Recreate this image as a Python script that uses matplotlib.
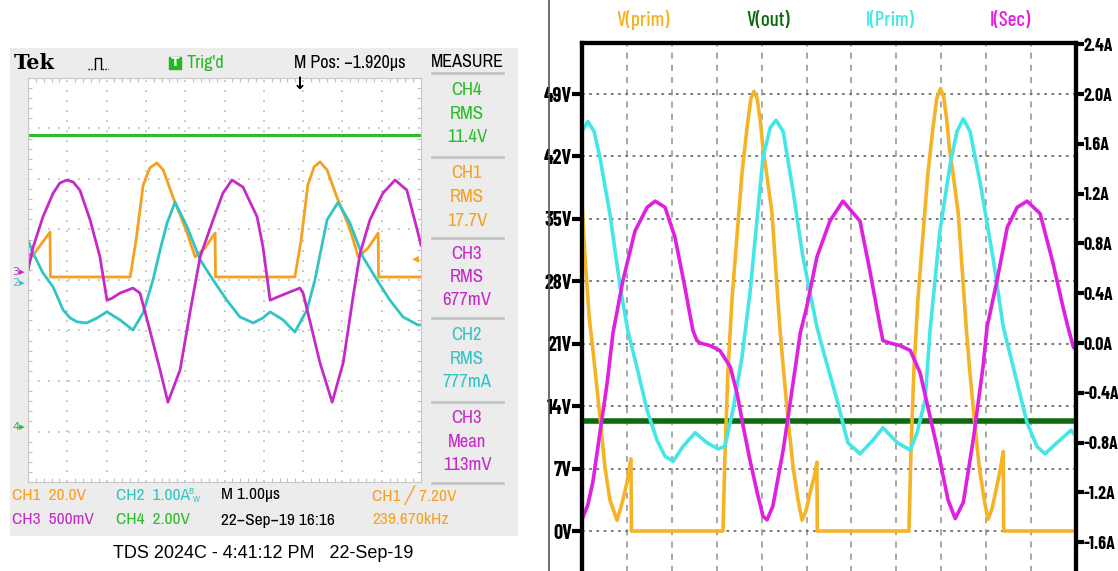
import matplotlib
matplotlib.use("Agg")
import matplotlib.pyplot as plt
from matplotlib.patches import Rectangle
from matplotlib.lines import Line2D

W, H = 1118, 571
NARROW = ['Archivo Narrow', 'DejaVu Sans']
BOLDN = ['Barlow Condensed', 'DejaVu Sans']
PLAIN = ['Liberation Sans', 'DejaVu Sans']

# ---------------- scope (left) data, time in us (1 us/div), amplitude in divisions
ch4_t = [0.0, 10.0]
ch4_d = [2.87, 2.87]

ch1_t = [0.00, 0.10, 0.56, 0.57, 2.60, 2.75, 2.93, 3.10, 3.28, 3.44, 3.69, 3.87, 4.05, 4.25,
         4.50, 4.76, 4.77, 6.79, 6.95, 7.12, 7.28, 7.43, 7.61, 7.86, 8.07, 8.24, 8.40, 8.65,
         8.91, 8.92, 10.0]
ch1_d = [0.53, 0.46, 0.95, 0.06, 0.06, 0.79, 1.88, 2.22, 2.32, 2.18, 1.64, 1.29, 0.93, 0.46,
         0.63, 0.93, 0.06, 0.06, 0.79, 1.88, 2.24, 2.34, 2.18, 1.64, 1.25, 0.89, 0.46, 0.63,
         0.93, 0.06, 0.06]

ch2_t = [0.00, 0.13, 0.38, 0.64, 0.89, 1.07, 1.25, 1.50, 1.76, 2.01, 2.34, 2.67, 2.93, 3.18,
         3.36, 3.54, 3.74, 4.05, 4.38, 4.71, 5.06, 5.39, 5.73, 5.98, 6.16, 6.49, 6.79, 7.10,
         7.30, 7.48, 7.61, 7.89, 8.19, 8.52, 8.88, 9.21, 9.54, 9.92, 10.0]
ch2_d = [0.79, 0.53, 0.14, -0.14, -0.59, -0.75, -0.83, -0.85, -0.75, -0.63, -0.79, -0.99,
         -0.65, 0.00, 0.59, 1.13, 1.54, 1.05, 0.40, 0.00, -0.40, -0.73, -0.85, -0.75, -0.63,
         -0.79, -1.03, -0.59, 0.00, 0.69, 1.19, 1.54, 1.13, 0.46, 0.00, -0.40, -0.73, -0.89,
         -0.89]

ch3_t = [0.00, 0.13, 0.38, 0.64, 0.81, 0.99, 1.15, 1.32, 1.58, 1.83, 2.01, 2.14, 2.34, 2.67,
         2.85, 3.10, 3.36, 3.56, 3.87, 4.12, 4.38, 4.71, 4.96, 5.19, 5.47, 5.83, 5.98, 6.16,
         6.28, 6.59, 6.92, 7.00, 7.43, 7.74, 8.02, 8.27, 8.45, 8.70, 9.03, 9.34, 9.64, 9.97,
         10.0]
ch3_d = [0.20, 0.65, 1.25, 1.72, 1.92, 1.98, 1.94, 1.78, 1.19, 0.46, -0.40, -0.36, -0.26,
         -0.16, -0.26, -0.99, -1.78, -2.42, -1.78, -0.65, 0.46, 1.19, 1.72, 1.98, 1.84, 1.25,
         0.65, -0.40, -0.36, -0.26, -0.16, -0.26, -1.64, -2.42, -1.64, -0.34, 0.53, 1.19,
         1.72, 1.98, 1.78, 0.79, 0.69]

measure_labels = [("CH4", "RMS", "11.4V"), ("CH1", "RMS", "17.7V"), ("CH3", "RMS", "677mV"),
                  ("CH2", "RMS", "777mA"), ("CH3", "Mean", "113mV")]

# ---------------- simulation (right) data, time in us
vprim_t = [0.00, 0.07, 0.16, 0.25, 0.40, 0.51, 0.62, 0.78, 0.89, 1.00, 1.09, 1.10,
           3.14, 3.18, 3.25, 3.34, 3.45, 3.56, 3.67, 3.76, 3.83, 3.90, 3.97, 4.03, 4.14, 4.23,
           4.32, 4.41, 4.48, 4.59, 4.70, 4.81, 4.90, 4.99, 5.08, 5.19, 5.23, 5.24,
           7.28, 7.32, 7.39, 7.48, 7.59, 7.70, 7.81, 7.90, 7.98, 8.05, 8.12, 8.18, 8.29, 8.38,
           8.47, 8.56, 8.63, 8.74, 8.85, 8.96, 9.04, 9.13, 9.22, 9.31, 9.38, 9.39, 11.0]
vprim_v = [36.8, 30.5, 24.0, 20.0, 12.8, 7.2, 3.5, 1.2, 3.1, 5.4, 8.1, 0.0,
           0.0, 8.0, 18.0, 26.0, 33.0, 40.0, 45.0, 48.5, 49.3, 48.5, 46.0, 43.0, 39.0, 35.7,
           29.0, 22.5, 18.4, 12.4, 7.2, 3.5, 1.2, 2.3, 4.3, 6.5, 7.7, 0.0,
           0.0, 8.0, 18.0, 26.0, 33.0, 40.0, 45.0, 48.5, 49.6, 48.8, 46.2, 43.0, 39.0, 35.5,
           29.0, 22.5, 18.2, 12.3, 7.0, 3.4, 1.3, 2.5, 4.6, 6.8, 8.9, 0.0, 0.0]

vout_t = [0.0, 11.0]
vout_v = [12.3, 12.3]

iprim_t = [0.00, 0.13, 0.27, 0.40, 0.62, 0.85, 1.02, 1.22, 1.45, 1.67, 1.85, 2.03, 2.25, 2.52,
           2.78, 3.03, 3.18, 3.36, 3.56, 3.74, 4.03, 4.19, 4.32, 4.48, 4.70, 4.92, 5.23, 5.37,
           5.68, 5.92, 6.19, 6.48, 6.70, 7.02, 7.31, 7.46, 7.64, 7.75, 7.97, 8.20, 8.35, 8.49,
           8.64, 8.86, 9.15, 9.38, 9.47, 9.69, 9.91, 10.13, 10.31, 10.58, 10.89, 11.0]
iprim_a = [1.70, 1.78, 1.70, 1.49, 1.04, 0.45, 0.10, -0.19, -0.54, -0.78, -0.91, -0.95, -0.83,
           -0.72, -0.80, -0.85, -0.83, -0.54, -0.12, 0.40, 1.49, 1.73, 1.79, 1.70, 1.22, 0.69,
           0.13, -0.06, -0.46, -0.80, -0.89, -0.78, -0.68, -0.80, -0.86, -0.72, -0.46, 0.10,
           0.90, 1.44, 1.70, 1.80, 1.70, 1.30, 0.69, 0.13, 0.00, -0.32, -0.64, -0.83, -0.89,
           -0.80, -0.70, -0.75]

isec_t = [0.00, 0.13, 0.24, 0.40, 0.56, 0.69, 0.91, 1.18, 1.45, 1.63, 1.85, 2.07, 2.29, 2.47,
          2.56, 2.63, 2.85, 3.07, 3.30, 3.45, 3.59, 3.74, 3.90, 4.03, 4.12, 4.25, 4.48, 4.70,
          4.86, 5.01, 5.23, 5.52, 5.81, 6.19, 6.41, 6.64, 6.70, 6.86, 7.08, 7.31, 7.53, 7.75,
          7.97, 8.15, 8.31, 8.49, 8.71, 8.93, 9.02, 9.24, 9.47, 9.69, 9.91, 10.20, 10.49,
          10.71, 10.82, 10.94, 11.0]
isec_a = [-1.42, -1.30, -1.12, -0.72, -0.32, 0.08, 0.50, 0.90, 1.09, 1.14, 1.09, 0.85, 0.45,
          0.10, 0.02, 0.00, -0.02, -0.06, -0.19, -0.40, -0.67, -0.94, -1.20, -1.39, -1.42,
          -1.31, -0.86, -0.32, 0.08, 0.30, 0.69, 0.98, 1.14, 0.98, 0.58, 0.13, 0.02, 0.00,
          -0.02, -0.06, -0.24, -0.59, -0.94, -1.26, -1.41, -1.28, -0.78, -0.19, 0.13, 0.50,
          0.93, 1.09, 1.14, 1.04, 0.64, 0.29, 0.13, -0.03, -0.06]

v_ticks = [0, 7, 14, 21, 28, 35, 42, 49]
a_ticks = [-1.6, -1.2, -0.8, -0.4, 0.0, 0.4, 0.8, 1.2, 1.6, 2.0, 2.4]
series_names = ["V(prim)", "V(out)", "I(Prim)", "I(Sec)"]

C_ORG, C_CYA, C_MAG, C_GRN = '#f7a01e', '#30c4c4', '#c52ac8', '#2cbc2c'
S_ORG, S_GRN, S_CYA, S_MAG = '#f5b326', '#0d6b0d', '#44e6e6', '#e020e0'

fig = plt.figure(figsize=(W / 100, H / 100), dpi=100)


def fx(x):
    return x / W


def fy(y):
    return 1 - y / H


def ftext(x, y, s, **kw):
    kw.setdefault('family', NARROW)
    kw.setdefault('va', 'center')
    fig.text(fx(x), fy(y), s, **kw)


# scope panel background
fig.add_artist(Rectangle((fx(10), fy(535)), (517 - 10) / W, (535 - 48) / H,
                         transform=fig.transFigure, color='#ececec', zorder=0))

ax_s = fig.add_axes([fx(28), fy(482), (421 - 28) / W, (482 - 78) / H])
ax_s.set_xlim(0, 10)
ax_s.set_ylim(-4, 4)
ax_s.set_facecolor('white')
ax_s.set_xticks(range(1, 10))
ax_s.set_yticks(range(-3, 4))
ax_s.set_xticks([i * 0.2 for i in range(51)], minor=True)
ax_s.set_yticks([-4 + i * 0.2 for i in range(41)], minor=True)
ax_s.tick_params(which='major', length=0, labelbottom=False, labelleft=False)
ax_s.tick_params(which='minor', length=3, width=0.8, color='#c0c0c0', direction='in',
                 top=True, right=True)
ax_s.grid(color='#b8b8b8', linestyle=(0, (1, 5)), lw=1.2)
for sp in ax_s.spines.values():
    sp.set_color('#c8c8c8')
ax_s.plot(ch4_t, ch4_d, color=C_GRN, lw=2.2)
ax_s.plot(ch1_t, ch1_d, color=C_ORG, lw=2.0)
ax_s.plot(ch2_t, ch2_d, color=C_CYA, lw=2.0)
ax_s.plot(ch3_t, ch3_d, color=C_MAG, lw=2.0)

# scope header
ftext(14, 63, "Tek", family='DejaVu Serif', weight='bold', size=15)
fig.add_artist(Line2D([fx(95), fx(95), fx(101), fx(101)], [fy(69), fy(58), fy(58), fy(69)],
                      transform=fig.transFigure, color='black', lw=1))
for x0 in (88, 102):
    fig.add_artist(Line2D([fx(x0), fx(x0 + 6)], [fy(69), fy(69)], transform=fig.transFigure,
                          color='black', lw=1, linestyle=(0, (1, 1))))
fig.add_artist(Rectangle((fx(169), fy(69)), 12 / W, 12 / H, transform=fig.transFigure,
                         color='#22b822'))
ftext(175, 63, "T", color='white', size=9, weight='bold', ha='center', family='DejaVu Sans')
ftext(187, 63, "Trig'd", color='#22b822', size=13)
ftext(294, 63, "M Pos: \u22121.920\u00b5s", color='black', size=13)
ftext(300, 84, "\u2193", color='black', size=12, weight='bold', ha='center',
      family='DejaVu Sans')
ftext(467, 62, "MEASURE", color='black', size=13, ha='center')

seps = [73, 157, 238, 318, 402, 483]
for y in seps:
    fig.add_artist(Line2D([fx(432), fx(503)], [fy(y), fy(y)], transform=fig.transFigure,
                          color='#c4c4c4', lw=2))
m_colors = [C_GRN, C_ORG, C_MAG, C_CYA, C_MAG]
m_rows = [(90, 114, 137), (173, 197, 221), (254, 277, 300), (335, 359, 382), (418, 442, 465)]
for (lab, rows, col) in zip(measure_labels, m_rows, m_colors):
    for s, y in zip(lab, rows):
        ftext(467, y, s, color=col, size=13.5, ha='center')

# channel markers
ftext(12, 272, "3\u25b8", color=C_MAG, size=8, family='DejaVu Sans')
ftext(12, 283, "2\u25b8", color=C_CYA, size=8, family='DejaVu Sans')
ftext(12, 427, "4\u25b8", color=C_GRN, size=8, family='DejaVu Sans')
ftext(412, 258, "\u25c2", color=C_ORG, size=10, family='DejaVu Sans')

# scope footer
ftext(12, 495, "CH1  20.0V", color=C_ORG, size=12.5)
ftext(12, 520, "CH3  500mV", color=C_MAG, size=12.5)
ftext(116, 495, "CH2  1.00A", color=C_CYA, size=12.5)
ftext(188, 491, "B", color=C_CYA, size=6.5)
ftext(193, 499, "W", color=C_CYA, size=6.5)
ftext(116, 520, "CH4  2.00V", color=C_GRN, size=12.5)
ftext(221, 495, "M 1.00\u00b5s", color='black', size=12.5)
ftext(221, 520, "22\u2212Sep\u221219 16:16", color='black', size=12.5)
ftext(372, 495, "CH1 \u2571 7.20V", color=C_ORG, size=12.5)
ftext(372, 520, "239.670kHz", color=C_ORG, size=12.5)
ftext(263, 553, "TDS 2024C - 4:41:12 PM   22-Sep-19", color='black', size=13, ha='center',
      family=PLAIN)

# divider between panels
fig.add_artist(Line2D([fx(549), fx(549)], [0, 1], transform=fig.transFigure,
                      color='#555555', lw=1.2))

# ---------------- simulation panel
ax = fig.add_axes([fx(582), fy(575), (1076 - 582) / W, (575 - 43) / H])
ax.set_xlim(0, 11)
ax.set_ylim(-4.93, 54.72)
ax2 = ax.twinx()
ax2.set_ylim(-1.863, 2.41)

ax.set_xticks(range(1, 11))
ax.tick_params(axis='x', length=0, labelbottom=False)
ax.set_yticks(v_ticks)
ax.set_yticklabels([f"{v}V" for v in v_ticks], family=BOLDN, weight=700, size=14.5)
ax.tick_params(axis='y', length=7, width=3, pad=0)
ax2.set_yticks(a_ticks)
ax2.set_yticklabels([f"{a:.1f}A" for a in a_ticks], family=BOLDN, weight=700, size=13)
ax2.tick_params(axis='y', length=6, width=3, pad=-0.5)
ax.grid(axis='y', color='#707070', linestyle=(0, (1.5, 2.5)), lw=1.3)
ax.grid(axis='x', color='#909090', linestyle=(0, (4, 4)), lw=1.1)
for a in (ax, ax2):
    for sp in a.spines.values():
        sp.set_linewidth(3)

ax.plot(vout_t, vout_v, color=S_GRN, lw=4, zorder=3)
ax.plot(vprim_t, vprim_v, color=S_ORG, lw=2.6, zorder=4)
ax2.plot(iprim_t, iprim_a, color=S_CYA, lw=2.6)
ax2.plot(isec_t, isec_a, color=S_MAG, lw=2.6)

for name, x, col in zip(series_names, [643, 768, 890, 1010], [S_ORG, S_GRN, S_CYA, S_MAG]):
    ftext(x, 20, name, color=col, size=15, ha='center', family=BOLDN, weight=500)

fig.savefig("out.png", dpi=100)
